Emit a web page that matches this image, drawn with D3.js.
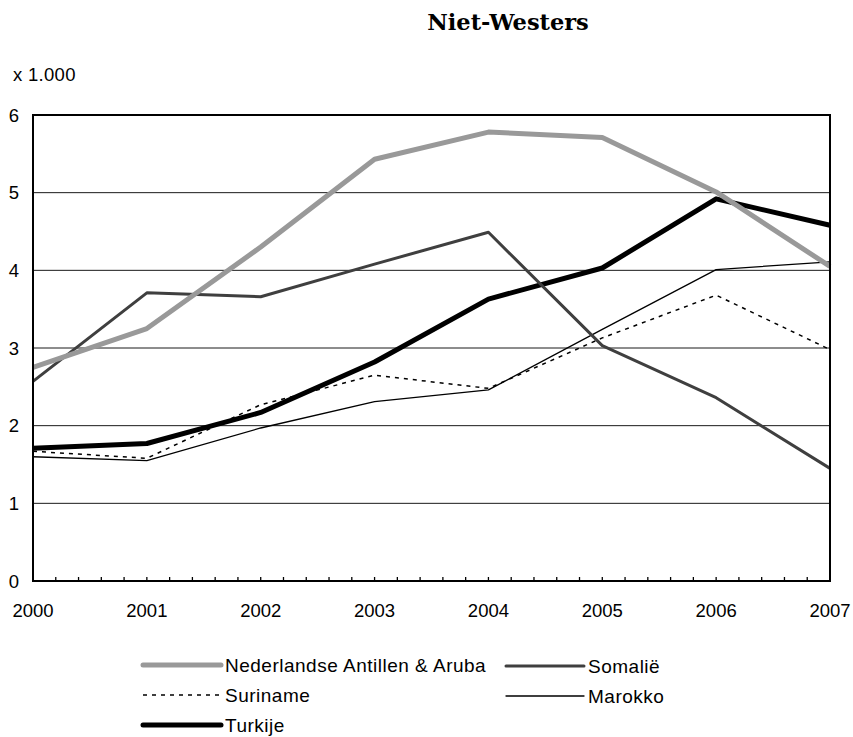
<!DOCTYPE html>
<html>
<head>
<meta charset="utf-8">
<script src="https://cdn.jsdelivr.net/npm/d3@7"></script>
<style>
  html, body { margin: 0; padding: 0; background: #fff; }
  svg { display: block; }
  text { font-family: "Liberation Sans", Arial, sans-serif; fill: #000; }
</style>
</head>
<body>
<svg id="chart" width="853" height="737"></svg>
<script>
const years = [2000, 2001, 2002, 2003, 2004, 2005, 2006, 2007];
const yTicks = [0, 1, 2, 3, 4, 5, 6];
const seriesNames = ["Nederlandse Antillen & Aruba", "Somalië", "Suriname", "Marokko", "Turkije"];
const antillen = [2.75, 3.25, 4.30, 5.43, 5.78, 5.71, 5.01, 4.05];
const somalie  = [2.57, 3.71, 3.66, 4.08, 4.49, 3.03, 2.36, 1.45];
const suriname = [1.67, 1.58, 2.27, 2.65, 2.48, 3.13, 3.68, 2.98];
const marokko  = [1.60, 1.55, 1.97, 2.31, 2.46, 3.24, 4.01, 4.11];
const turkije  = [1.71, 1.77, 2.17, 2.82, 3.63, 4.03, 4.92, 4.58];
const title = "Niet-Westers";
const unitLabel = "x 1.000";

const styles = [
  { color: "#999999", width: 5, dash: null },
  { color: "#3f3f3f", width: 3, dash: null },
  { color: "#000000", width: 1.5, dash: "4,5" },
  { color: "#000000", width: 1.3, dash: null },
  { color: "#000000", width: 5, dash: null }
];
const allValues = [antillen, somalie, suriname, marokko, turkije];

const svg = d3.select("#chart");
const L = 33, R = 830, T = 115, B = 581;

const x = d3.scaleLinear().domain([2000, 2007]).range([L, R]);
const y = d3.scaleLinear().domain([0, 6]).range([B, T]);

// title
svg.append("text").attr("x", 508).attr("y", 30).attr("text-anchor", "middle")
  .style("font-family", "'DejaVu Serif', serif").style("font-weight", "bold")
  .style("font-size", "22.5px").text(title);

svg.append("text").attr("x", 13).attr("y", 81).style("font-size", "18.5px")
  .style("letter-spacing", "0.3px").text(unitLabel);

// gridlines
svg.append("g").selectAll("line").data(yTicks.filter(d => d > 0 && d < 6)).join("line")
  .attr("x1", L).attr("x2", R).attr("y1", d => y(d)).attr("y2", d => y(d))
  .attr("stroke", "#1a1a1a").attr("stroke-width", 1);

// y tick labels
svg.append("g").selectAll("text").data(yTicks).join("text")
  .attr("x", 19).attr("y", d => y(d) + 6.5).attr("text-anchor", "end")
  .style("font-size", "18.5px").text(d => d);

// x axis with minor ticks
const minor = d3.range(2000, 2007.001, 0.2);
svg.append("g").selectAll("line").data(minor).join("line")
  .attr("x1", d => x(d)).attr("x2", d => x(d)).attr("y1", B).attr("y2", B - 4)
  .attr("stroke", "#000").attr("stroke-width", 1.3);

svg.append("g").selectAll("text").data(years).join("text")
  .attr("x", d => x(d)).attr("y", 617).attr("text-anchor", "middle")
  .style("font-size", "18.5px").text(d => d);

// lines (drawn in reverse so first series is on top)
const line = d3.line().x((d, i) => x(years[i])).y(d => y(d));
const order = [4, 3, 2, 1, 0];
order.forEach(k => {
  const s = styles[k];
  svg.append("path").datum(allValues[k]).attr("d", line)
    .attr("fill", "none").attr("stroke", s.color).attr("stroke-width", s.width)
    .attr("stroke-linejoin", "round")
    .attr("stroke-dasharray", s.dash);
});

// frame
svg.append("rect").attr("x", L).attr("y", T).attr("width", R - L).attr("height", B - T)
  .attr("fill", "none").attr("stroke", "#000").attr("stroke-width", 2);

// legend
const legendPos = [
  { lx: 143, ly: 665 },
  { lx: 506, ly: 666 },
  { lx: 143, ly: 695 },
  { lx: 506, ly: 696 },
  { lx: 143, ly: 725 }
];
const lg = svg.append("g");
seriesNames.forEach((name, k) => {
  const p = legendPos[k], s = styles[k];
  lg.append("line").attr("x1", p.lx).attr("x2", p.lx + 78).attr("y1", p.ly).attr("y2", p.ly)
    .attr("stroke", s.color).attr("stroke-width", s.width)
    .attr("stroke-linecap", s.dash ? "butt" : "round")
    .attr("stroke-dasharray", s.dash);
  lg.append("text").attr("x", p.lx + 82).attr("y", p.ly + 7)
    .style("font-size", "19px").style("letter-spacing", "0.5px").text(name);
});
</script>
</body>
</html>
